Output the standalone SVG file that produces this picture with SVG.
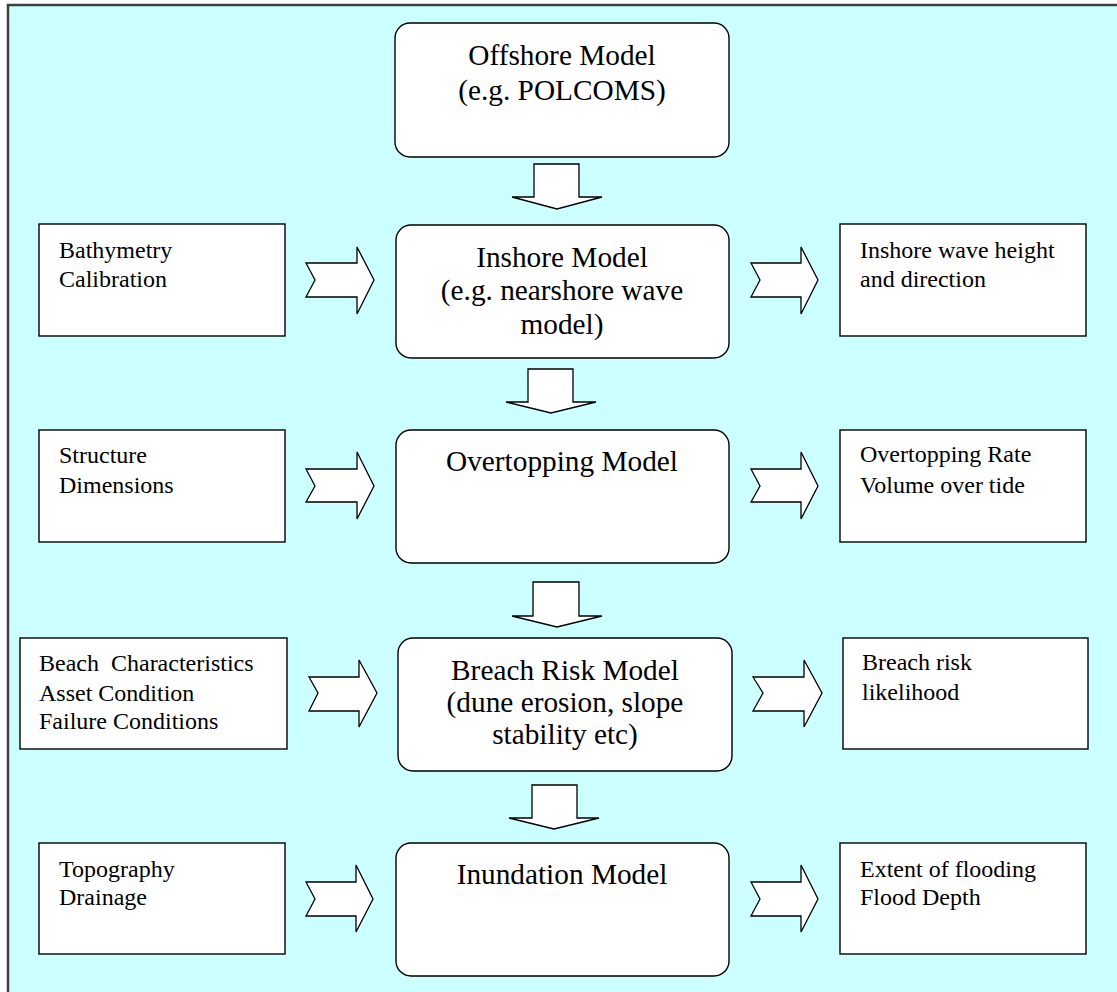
<svg xmlns="http://www.w3.org/2000/svg" width="1117" height="992" viewBox="0 0 1117 992">
<style>
.bg{fill:#ccffff;stroke:#404040;stroke-width:2.5}
.mid{fill:#ffffff;stroke:#000000;stroke-width:1.4}
.side{fill:#ffffff;stroke:#000000;stroke-width:1.4}
.arr{fill:#ffffff;stroke:#000000;stroke-width:1.3;stroke-linejoin:miter}
.tm{font-size:29.3px;fill:#000;text-anchor:middle}
.ts{font-size:24px;fill:#000;white-space:pre}
</style>
<rect x="0" y="0" width="1117" height="992" fill="#ffffff"/>
<rect class="bg" x="8" y="5" width="1130" height="1010"/>

<g font-family="Liberation Serif, Tinos, DejaVu Serif, serif">
<g id="offshore">
<rect class="mid" x="395" y="23" width="334" height="134" rx="15"/>
<text class="tm" x="562" y="65">Offshore Model</text>
<text class="tm" x="562" y="100">(e.g. POLCOMS)</text>
</g>

<g id="inshore">
<rect class="mid" x="396" y="225" width="333" height="133" rx="15"/>
<text class="tm" x="562" y="267">Inshore Model</text>
<text class="tm" x="562" y="300">(e.g. nearshore wave</text>
<text class="tm" x="562" y="334">model)</text>
</g>

<g id="overtopping">
<rect class="mid" x="396" y="430" width="333" height="133" rx="15"/>
<text class="tm" x="562" y="471">Overtopping Model</text>
</g>

<g id="breach">
<rect class="mid" x="398" y="638" width="334" height="133" rx="15"/>
<text class="tm" x="565" y="680">Breach Risk Model</text>
<text class="tm" x="565" y="712">(dune erosion, slope</text>
<text class="tm" x="565" y="744">stability etc)</text>
</g>

<g id="inundation">
<rect class="mid" x="396" y="843" width="333" height="133" rx="15"/>
<text class="tm" x="562" y="884">Inundation Model</text>
</g>

<g id="bathymetry">
<rect class="side" x="39" y="224" width="246" height="112"/>
<text class="ts" x="59" y="258">Bathymetry</text>
<text class="ts" x="59" y="287">Calibration</text>
</g>

<g id="structure">
<rect class="side" x="39" y="430" width="246" height="112"/>
<text class="ts" x="59" y="463">Structure</text>
<text class="ts" x="59" y="493">Dimensions</text>
</g>

<g id="beach">
<rect class="side" x="20" y="638" width="267" height="111"/>
<text class="ts" x="39" y="671">Beach  Characteristics</text>
<text class="ts" x="39" y="701">Asset Condition</text>
<text class="ts" x="39" y="729">Failure Conditions</text>
</g>

<g id="topography">
<rect class="side" x="39" y="843" width="246" height="111"/>
<text class="ts" x="59" y="877">Topography</text>
<text class="ts" x="59" y="905">Drainage</text>
</g>

<g id="wave-height">
<rect class="side" x="840" y="224" width="246" height="112"/>
<text class="ts" x="860" y="258">Inshore wave height</text>
<text class="ts" x="860" y="287">and direction</text>
</g>

<g id="overtopping-rate">
<rect class="side" x="840" y="430" width="246" height="112"/>
<text class="ts" x="860" y="462">Overtopping Rate</text>
<text class="ts" x="860" y="493">Volume over tide</text>
</g>

<g id="breach-likelihood">
<rect class="side" x="843" y="638" width="245" height="111"/>
<text class="ts" x="862" y="670">Breach risk</text>
<text class="ts" x="862" y="700">likelihood</text>
</g>

<g id="flooding">
<rect class="side" x="840" y="843" width="246" height="111"/>
<text class="ts" x="860" y="877">Extent of flooding</text>
<text class="ts" x="860" y="905">Flood Depth</text>
</g>
</g>

<g id="connectors">
<polygon class="arr" points="534,164 579,164 579,197 602,197 557,209 512,197 534,197"/>
<polygon class="arr" points="528,369 573,369 573,402 596,402 551,413 506,402 528,402"/>
<polygon class="arr" points="533,582 579,582 579,616 602,616 557,627 512,616 533,616"/>
<polygon class="arr" points="532,785 577,785 577,818 599,818 554,829 509,818 532,818"/>
<polygon class="arr" points="306,263 357,263 357,247 374,280 357,314 357,297 306,297 315,280"/>
<polygon class="arr" points="306,469 357,469 357,452 374,486 357,519 357,502 306,502 315,486"/>
<polygon class="arr" points="309,677 359,677 359,660 377,693 359,727 359,711 309,711 318,693"/>
<polygon class="arr" points="306,882 356,882 356,865 373,899 356,932 356,916 306,916 315,899"/>
<polygon class="arr" points="751,263 801,263 801,247 818,280 801,314 801,297 751,297 760,280"/>
<polygon class="arr" points="751,469 801,469 801,452 818,486 801,519 801,502 751,502 760,486"/>
<polygon class="arr" points="753,677 804,677 804,660 822,693 804,727 804,711 753,711 763,693"/>
<polygon class="arr" points="751,882 801,882 801,865 818,899 801,932 801,916 751,916 760,899"/>
</g>
</svg>
